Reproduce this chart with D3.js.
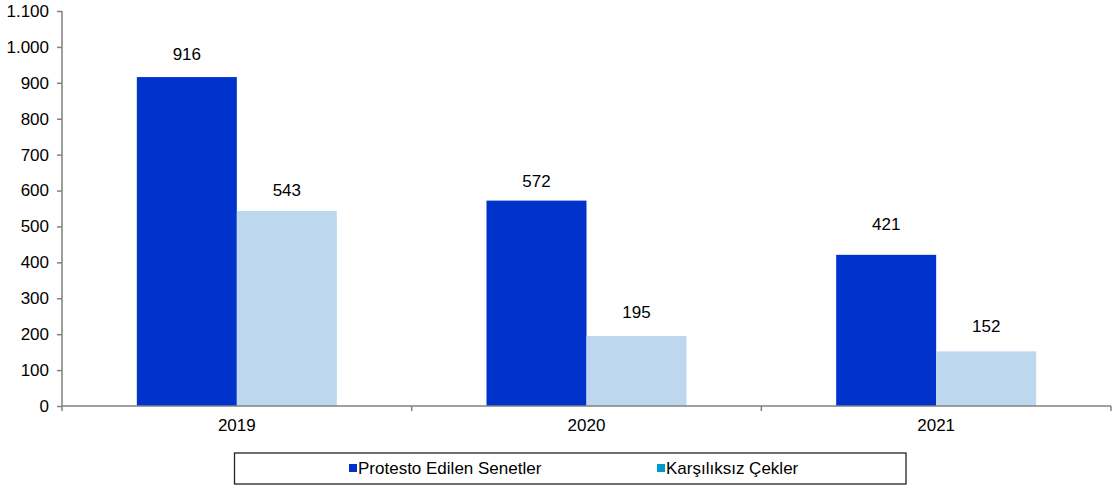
<!DOCTYPE html>
<html><head><meta charset="utf-8">
<script src="https://cdn.jsdelivr.net/npm/d3@7"></script>
<style>body{margin:0;background:#fff}svg{display:block}text{font-family:"Liberation Sans",Arial,sans-serif}</style>
</head><body>
<svg id="c" width="1112" height="487"></svg>
<script>
const categories = ["2019","2020","2021"];
const seriesNames = ["Protesto Edilen Senetler","Karşılıksız Çekler"];
const protesto = [916,572,421];
const karsiliksiz = [543,195,152];
const yTicks = [0,100,200,300,400,500,600,700,800,900,1000,1100];
const barColors = ["#0033CC","#BDD7EE"];
const legendColors = ["#0033CC","#0099CC"];

const svg = d3.select("#c");
const L=62, R=1111, T=11, B=406;
const FS=17;
const x = d3.scaleBand().domain(categories).range([L,R]).paddingInner(0).paddingOuter(0);
const x1 = d3.scaleBand().domain([0,1]).range([0,200]);
const y = d3.scaleLinear().domain([0,1100]).range([B,T]);
const fmt = v => d3.format(",")(v).replace(/,/g,".");
const axisColor="#808080";
// manual label nudges (px) as placed in the original
const nudge = [[-2,0],[1,-3],[-10,-4]];

// y axis
const ya = svg.append("g").attr("transform",`translate(${L},0)`)
  .call(d3.axisLeft(y).tickValues(yTicks).tickFormat(fmt).tickSize(5).tickPadding(8));
ya.selectAll("path,line").attr("stroke",axisColor).attr("stroke-width",1.5);
ya.select("path").attr("d",`M0,${T}V${B}`);
ya.selectAll("text").attr("font-size",FS).attr("fill","#000");

// bars
const data = [protesto, karsiliksiz];
categories.forEach((c,i)=>{
  const gx = x(c) + (x.bandwidth()-200)/2;
  data.forEach((s,j)=>{
    svg.append("rect").attr("x",gx+x1(j)).attr("width",x1.bandwidth())
      .attr("y",y(s[i])).attr("height",y(0)-y(s[i])).attr("fill",barColors[j]);
    svg.append("text").attr("x",gx+x1(j)+x1.bandwidth()/2).attr("y",y(s[i])-15+nudge[i][j])
      .attr("text-anchor","middle").attr("font-size",FS).text(fmt(s[i]));
  });
});

// x axis
const xa = svg.append("g").attr("transform",`translate(0,${B})`);
xa.append("line").attr("x1",L).attr("x2",R).attr("stroke",axisColor).attr("stroke-width",1.5);
const bounds = [L].concat(categories.map(c=>x(c)+x.bandwidth()));
bounds.forEach(b=>xa.append("line").attr("x1",b).attr("x2",b).attr("y1",0).attr("y2",5).attr("stroke",axisColor).attr("stroke-width",1.5));
categories.forEach(c=>xa.append("text").attr("x",x(c)+x.bandwidth()/2).attr("y",25)
  .attr("text-anchor","middle").attr("font-size",FS).text(c));

// legend
const lg = svg.append("g");
lg.append("rect").attr("x",234.5).attr("y",453).attr("width",671.5).attr("height",31)
  .attr("fill","#fff").attr("stroke","#222").attr("stroke-width",1.3);
const lx=[349,657];
seriesNames.forEach((n,j)=>{
  lg.append("rect").attr("x",lx[j]).attr("y",464).attr("width",8).attr("height",8).attr("fill",legendColors[j]);
  lg.append("text").attr("x",lx[j]+9).attr("y",474).attr("font-size",FS).text(n);
});
</script>
</body></html>
